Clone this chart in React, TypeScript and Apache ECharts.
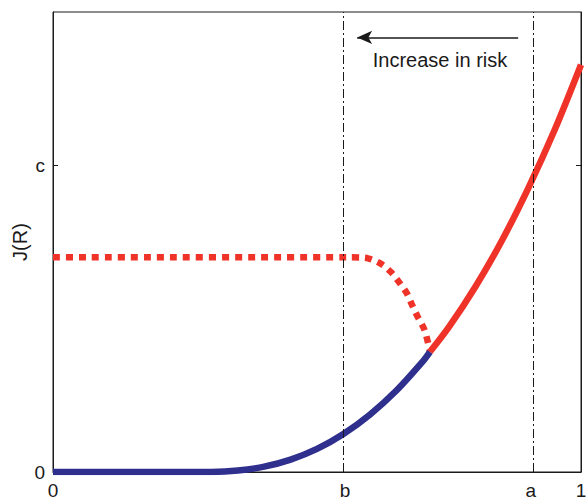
import React, { useEffect, useRef } from "react";
import * as echarts from "echarts";

// Axis ticks
const xTickValues = [0, 0.553, 0.905, 1];
const xTickLabels = ["0", "b", "a", "1"];
const yTickValues = [0, 1];
const yTickLabels = ["0", "c"];

// Lower (blue) curve
const blueX = [0, 0.1, 0.2, 0.25, 0.3, 0.35, 0.4, 0.45, 0.5, 0.55, 0.6, 0.65, 0.7, 0.714];
const blueY = [0, 0, 0, 0, 0.0002, 0.0047, 0.0174, 0.0404, 0.0753, 0.124, 0.187, 0.265, 0.36, 0.392];

// Upper (red solid) curve
const redX = [0.714, 0.75, 0.8, 0.85, 0.9, 0.95, 1.0];
const redY = [0.392, 0.473, 0.604, 0.754, 0.925, 1.115, 1.328];

// Red dotted curve
const dotX = [0, 0.56, 0.59, 0.62, 0.64, 0.655, 0.67, 0.68, 0.691, 0.703, 0.71, 0.714];
const dotY = [0.7, 0.7, 0.699, 0.68, 0.652, 0.62, 0.583, 0.545, 0.505, 0.466, 0.423, 0.392];

// Vertical reference lines (b and a)
const refLines = [0.553, 0.905];

// Annotation
const arrowFrom = [0.881, 1.417];
const arrowTo = [0.576, 1.417];
const annotText = "Increase in risk";
const annotPos = [0.733, 1.345];

const FONT = "Liberation Sans, Arial, Helvetica, sans-serif";
const RED = "#ef3329";
const BLUE = "#2f2f8e";
const INK = "#1a1a1a";

const pairs = (xs: number[], ys: number[]) => xs.map((x, i) => [x, ys[i]]);

export default function App() {
  const ref = useRef<HTMLDivElement>(null);
  useEffect(() => {
    if (!ref.current) return;
    const chart = echarts.init(ref.current, undefined, { renderer: "svg" });
    chart.setOption({
      animation: false,
      backgroundColor: "#ffffff",
      grid: {
        left: 53,
        right: 5,
        top: 12,
        bottom: 28,
        containLabel: false,
        outerBoundsMode: "none",
        show: true,
        borderColor: INK,
        borderWidth: 1,
        backgroundColor: "transparent",
      },
      xAxis: {
        type: "value",
        min: 0,
        max: 1,
        splitLine: { show: false },
        axisLine: { show: true, lineStyle: { color: INK, width: 1 } },
        axisTick: { show: false },
        axisLabel: {
          customValues: xTickValues,
          formatter: (v: number) => {
            const i = xTickValues.findIndex((t) => Math.abs(t - v) < 1e-6);
            return i >= 0 ? xTickLabels[i] : "";
          },
          color: INK,
          fontSize: 19,
          fontFamily: FONT,
          margin: 9,
          showMinLabel: true,
          showMaxLabel: true,
        },
      },
      yAxis: [
        {
          type: "value",
          min: 0,
          max: 1.5,
          name: "J(R)",
          nameLocation: "middle",
          nameGap: 23,
          nameMoveOverlap: false,
          nameRotate: 90,
          nameTextStyle: { color: INK, fontSize: 20, fontFamily: FONT },
          splitLine: { show: false },
          axisLine: { show: true, lineStyle: { color: INK, width: 1 } },
          axisTick: {
            show: true,
            inside: true,
            length: 5,
            customValues: yTickValues,
            lineStyle: { color: INK },
          },
          axisLabel: {
            customValues: yTickValues,
            formatter: (v: number) => {
              const i = yTickValues.findIndex((t) => Math.abs(t - v) < 1e-6);
              return i >= 0 ? yTickLabels[i] : "";
            },
            color: INK,
            fontSize: 19,
            fontFamily: FONT,
            margin: 8,
          },
        },
        {
          type: "value",
          min: 0,
          max: 1.5,
          position: "right",
          splitLine: { show: false },
          axisLine: { show: true, lineStyle: { color: INK, width: 1 } },
          axisTick: {
            show: true,
            inside: true,
            length: 5,
            customValues: yTickValues,
            lineStyle: { color: INK },
          },
          axisLabel: { show: false },
        },
      ],
      series: [
        {
          type: "line",
          data: pairs(dotX, dotY),
          smooth: 0.3,
          showSymbol: false,
          symbol: "none",
          lineStyle: { color: RED, width: 6.5, type: [7, 6], cap: "butt" },
          z: 3,
          markLine: {
            silent: true,
            symbol: ["none", "none"],
            label: { show: false },
            lineStyle: { color: INK, width: 1, type: [9, 3, 2, 3] },
            data: refLines.map((v) => ({ xAxis: v })),
          },
          markPoint: {
            silent: true,
            symbol: "circle",
            symbolSize: 1,
            itemStyle: { color: "rgba(0,0,0,0)" },
            label: {
              show: true,
              position: "inside",
              formatter: annotText,
              color: INK,
              fontSize: 20,
              fontFamily: FONT,
            },
            data: [{ coord: annotPos }],
          },
        },
        {
          type: "line",
          data: pairs(blueX, blueY),
          smooth: 0.3,
          showSymbol: false,
          symbol: "none",
          lineStyle: { color: BLUE, width: 6.5 },
          z: 4,
        },
        {
          type: "line",
          data: pairs(redX, redY),
          smooth: 0.3,
          showSymbol: false,
          symbol: "none",
          lineStyle: { color: RED, width: 6.5 },
          z: 4,
          markLine: {
            silent: true,
            symbol: ["none", "arrow"],
            symbolSize: [10, 15],
            label: { show: false },
            lineStyle: { color: INK, width: 1.5, type: "solid" },
            itemStyle: { color: INK },
            data: [[{ coord: arrowFrom }, { coord: arrowTo }]],
          },
        },
      ],
    });
    return () => chart.dispose();
  }, []);
  return (
    <div
      ref={ref}
      style={{ position: "absolute", left: 0, top: 0, width: 586, height: 500 }}
    />
  );
}
